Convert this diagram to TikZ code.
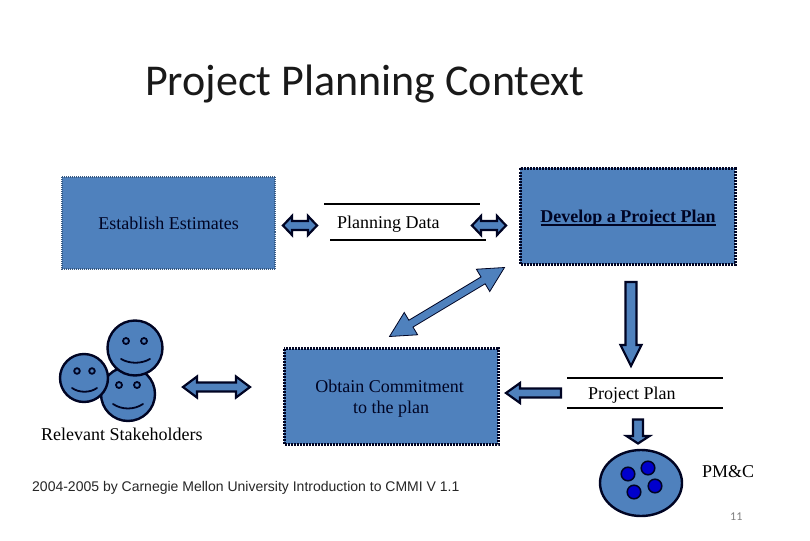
\documentclass[tikz,border=0pt]{standalone}
\usepackage{fontspec}
\setmainfont{Liberation Serif}
\newfontfamily\titlefont{Carlito}
\newfontfamily\armfont{Liberation Sans}
\usetikzlibrary{calc}
\definecolor{fillblue}{RGB}{79,129,189}
\definecolor{inkdark}{RGB}{0,4,35}
\definecolor{dotblue}{RGB}{0,0,205}
\tikzset{
  x=1pt,y=-1pt,
  serif/.style={font=\fontsize{18}{20}\selectfont,text=black,inner sep=0pt,anchor=base west},
  boxtext/.style={font=\fontsize{18}{21}\selectfont,text=inkdark,inner sep=0pt,align=center},
  lightbox/.style={draw=fillblue!70!black,fill=fillblue,line width=2pt,dash pattern=on 1pt off 1pt},
  darkbox/.style={draw=inkdark,fill=fillblue,line width=3pt,dash pattern=on 2pt off 1pt},
  rule/.style={draw=black,line width=2pt},
  blockarrow/.style={draw=inkdark,fill=fillblue,line width=#1,line join=miter,miter limit=4},
  blockarrow/.default=2.2pt,
  face/.style={draw=inkdark,fill=fillblue,line width=2.4pt},
  eye/.style={draw=inkdark,fill=fillblue,line width=1.8pt},
  smile/.style={draw=inkdark,line width=1.8pt,line cap=round},
}
\newcommand{\onearrow}[6][]{%
  \path[blockarrow,#1]
    ($(#2)!#4pt!90:(#3)$) --
    ($($(#3)!#5pt!(#2)$)!#4pt!90:(#3)$) --
    ($($(#3)!#5pt!(#2)$)!#6pt!90:(#3)$) --
    (#3) --
    ($($(#3)!#5pt!(#2)$)!#6pt!-90:(#3)$) --
    ($($(#3)!#5pt!(#2)$)!#4pt!-90:(#3)$) --
    ($(#2)!#4pt!-90:(#3)$) -- cycle;}
\newcommand{\twoarrow}[6][]{%
  \path[blockarrow,#1]
    (#2) --
    ($($(#2)!#5pt!(#3)$)!#6pt!90:(#3)$) --
    ($($(#2)!#5pt!(#3)$)!#4pt!90:(#3)$) --
    ($($(#3)!#5pt!(#2)$)!#4pt!-90:(#2)$) --
    ($($(#3)!#5pt!(#2)$)!#6pt!-90:(#2)$) --
    (#3) --
    ($($(#3)!#5pt!(#2)$)!#6pt!90:(#2)$) --
    ($($(#3)!#5pt!(#2)$)!#4pt!90:(#2)$) --
    ($($(#2)!#5pt!(#3)$)!#4pt!-90:(#3)$) --
    ($($(#2)!#5pt!(#3)$)!#6pt!-90:(#3)$) -- cycle;}
\begin{document}
\begin{tikzpicture}
\useasboundingbox (0,0) rectangle (810,540);
\fill[white] (0,0) rectangle (810,540);

\node[font=\titlefont\fontsize{44}{48}\selectfont,anchor=base west,inner sep=0pt,text=black!90] (title) at (145,96) {Project Planning Context};

% boxes
\path[lightbox] (62,176.5) rectangle (275,269);
\path[darkbox] (520,168.5) rectangle (735,264);
\path[darkbox] (284,348.5) rectangle (498,444);
\node[boxtext,anchor=base] (est) at (168.5,229) {Establish Estimates};
\node[boxtext,anchor=base,font=\bfseries\fontsize{18}{21}\selectfont] (dev) at (628,222) {Develop a Project Plan};
\draw[inkdark,line width=2pt] (540.5,224.5) -- (716,224.5);
\node[boxtext,anchor=base] (obt) at (389.5,392) {Obtain Commitment};
\node[boxtext,anchor=base] (obt2) at (391,413) {to the plan};

% data stores
\coordinate (pa) at (324,204); \coordinate (pb) at (480,204);
\coordinate (pc) at (330,240); \coordinate (pd) at (486,240);
\draw[rule] (pa) -- (pb); \draw[rule] (pc) -- (pd);
\node[serif] (pdata) at (337,228) {Planning Data};
\coordinate (qa) at (567,378); \coordinate (qb) at (723,378);
\coordinate (qc) at (567,408); \coordinate (qd) at (723,408);
\draw[rule] (qa) -- (qb); \draw[rule] (qc) -- (qd);
\node[serif] (pplan) at (588,399) {Project Plan};

% block arrows
\coordinate (a1) at (283,225.5); \coordinate (a2) at (317,225.5);
\twoarrow{a1}{a2}{4.5}{9}{9.5}
\coordinate (b1) at (472,225.5); \coordinate (b2) at (506,225.5);
\twoarrow{b1}{b2}{4.5}{9}{9.5}
\coordinate (c1) at (389.5,336.5); \coordinate (c2) at (504.5,267.5);
\twoarrow[blockarrow=0.8pt]{c1}{c2}{4}{25}{13}
\coordinate (d1) at (183,387); \coordinate (d2) at (250,387);
\twoarrow{d1}{d2}{4.5}{14}{10.5}
\coordinate (e1) at (631,282); \coordinate (e2) at (631,366);
\onearrow{e1}{e2}{5.5}{21}{10.5}
\coordinate (f1) at (561,393); \coordinate (f2) at (506,393);
\onearrow{f1}{f2}{4.5}{14}{10}
\coordinate (g1) at (638,419.5); \coordinate (g2) at (638,443.5);
\onearrow{g1}{g2}{5}{7.5}{11.5}

% stakeholders
\path[face] (128,394) circle (27);
\path[eye] (119,385) circle (3); \path[eye] (137,385) circle (3);
\draw[smile] (113,404) .. controls (122,410) and (134,410) .. (143,404);
\path[face] (84,378) circle (24);
\path[eye] (77,371) circle (2.8); \path[eye] (92,371) circle (2.8);
\draw[smile] (72,388) .. controls (79,393) and (90,393) .. (97,388);
\path[face] (135,348) circle (27.5);
\path[eye] (126,341) circle (3); \path[eye] (144,341) circle (3);
\draw[smile] (121,359) .. controls (130,364) and (141,364) .. (150,359);
\node[serif] (rel) at (41,440) {Relevant Stakeholders};

% PM&C
\path[face] (641,483) ellipse [x radius=41,y radius=33];
\foreach \p/\n in {{628,474}/u,{648,468}/v,{655,486}/w,{634,492}/z}
  \path[draw=inkdark,fill=dotblue,line width=1.5pt] (\p) circle (6.8);
\node[serif] (pmc) at (702,477) {PM\&C};

\node[font=\armfont\fontsize{14}{16}\selectfont,anchor=base west,inner sep=0pt,text=black!85] (cr) at (32,491) {2004-2005 by Carnegie Mellon University Introduction to CMMI V 1.1};
\node[font=\titlefont\fontsize{12}{14}\selectfont,anchor=base west,inner sep=0pt,text=black!50] (num) at (730,520) {11};
\end{tikzpicture}
\end{document}
